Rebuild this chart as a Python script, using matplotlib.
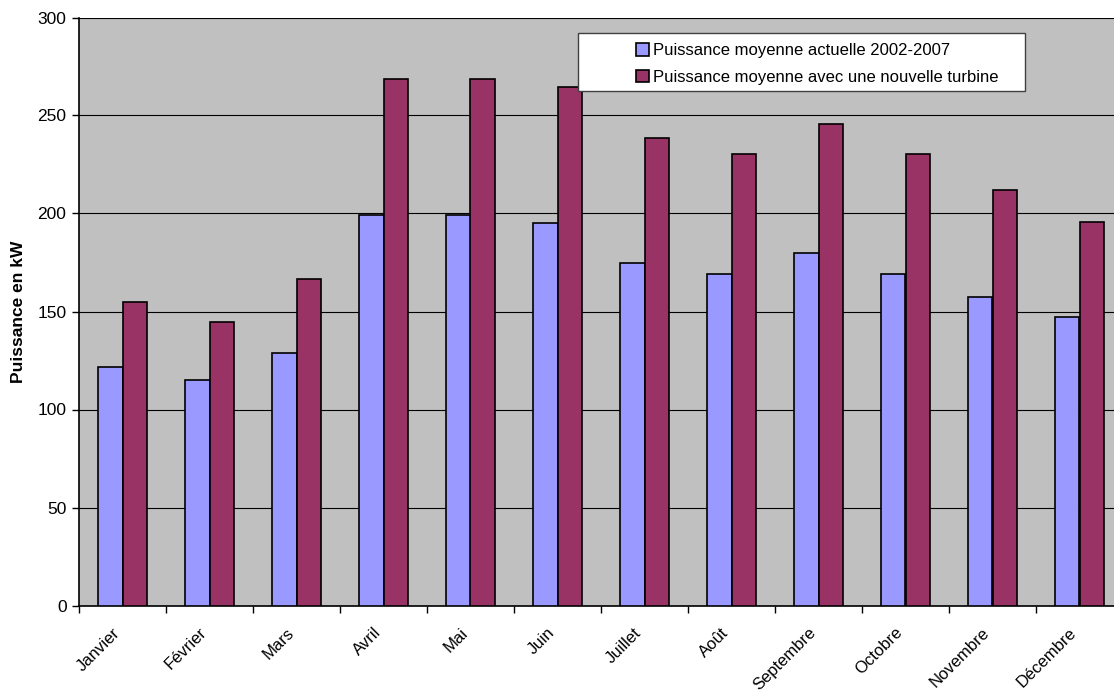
import matplotlib.pyplot as plt
import matplotlib.patches as mpatches
import numpy as np

plt.rcParams['font.family'] = ['Liberation Sans', 'DejaVu Sans']

mois = ["Janvier", "Février", "Mars", "Avril", "Mai", "Juin", "Juillet",
        "Août", "Septembre", "Octobre", "Novembre", "Décembre"]
actuelle = [121.5, 114.9, 129.0, 199.4, 199.2, 195.2, 174.6, 169.1, 179.7, 169.0, 157.6, 147.0]
nouvelle = [155.0, 144.6, 166.7, 268.8, 268.5, 264.5, 238.7, 230.4, 245.5, 230.2, 212.2, 195.8]

fig = plt.figure(figsize=(11.14, 6.93), dpi=100)
# plot area runs past the right edge of the picture, like the original crop
ax = fig.add_axes([79 / 1114, 1 - 605.5 / 693, 1044 / 1114, 588 / 693])
ax.set_facecolor("#C0C0C0")

x = np.arange(len(mois))
w = 0.28
ax.bar(x - w / 2, actuelle, w, color="#9999FF", edgecolor="black", linewidth=1.2,
       label="Puissance moyenne actuelle 2002-2007", zorder=3)
ax.bar(x + w / 2, nouvelle, w, color="#993366", edgecolor="black", linewidth=1.2,
       label="Puissance moyenne avec une nouvelle turbine", zorder=3)

ax.set_xlim(-0.5, 11.5)
ax.set_ylim(0, 300)
ax.set_yticks(range(0, 301, 50))
ax.yaxis.grid(True, color="black", linewidth=0.8, zorder=1)
ax.tick_params(axis="y", direction="out", length=5, width=1, pad=4, labelsize=12.5)

# category boundaries carry the ticks, labels sit at the centres
ax.set_xticks(np.arange(-0.5, 12, 1))
ax.set_xticklabels([])
ax.tick_params(axis="x", which="major", direction="out", length=5, width=1)
ax.set_xticks(x, minor=True)
ax.set_xticklabels(mois, minor=True, rotation=45, ha="right", va="top", fontsize=12)
ax.tick_params(axis="x", which="minor", length=0, pad=14)

for s in ["top", "right"]:
    ax.spines[s].set_visible(False)
ax.spines["left"].set_linewidth(1.2)
ax.spines["bottom"].set_linewidth(1.2)

ax.set_ylabel("Puissance en kW", fontsize=12.5, fontweight="bold", labelpad=8)

# legend box
box = mpatches.Rectangle((578 / 1114, 1 - 91 / 693), 447 / 1114, 58 / 693,
                         transform=fig.transFigure, facecolor="white",
                         edgecolor="#404040", linewidth=1, zorder=4)
fig.patches.append(box)
leg = fig.legend(loc="upper left", bbox_to_anchor=(621 / 1114, 1 - 28 / 693),
                 frameon=False, fontsize=12, handlelength=0.78, handleheight=0.78,
                 handletextpad=0.25, labelspacing=0.7, borderpad=0.4)
leg.set_zorder(5)

fig.savefig("out.png", dpi=100)
